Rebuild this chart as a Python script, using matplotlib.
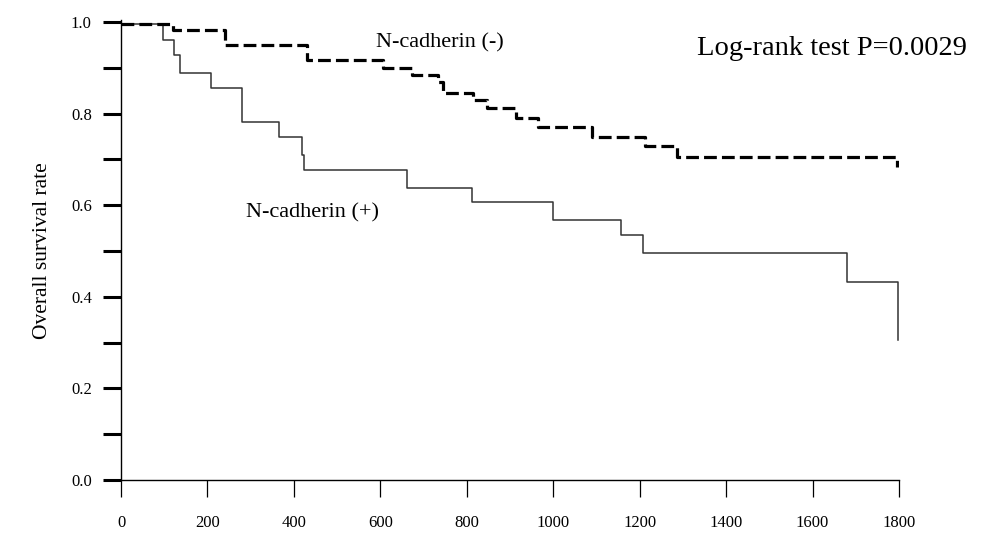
import matplotlib
matplotlib.use("Agg")
import matplotlib.pyplot as plt
from matplotlib.ticker import MultipleLocator

plt.rcParams['font.family'] = ['Liberation Serif', 'DejaVu Serif']

# N-cadherin (-) : step times (days) and survival after each step
neg_days = [0, 120, 241, 430, 606, 673, 733, 745, 815, 846, 915, 965, 1089, 1212, 1286, 1795, 1795]
neg_surv = [0.995, 0.983, 0.950, 0.917, 0.899, 0.884, 0.868, 0.845, 0.830, 0.812, 0.790, 0.771, 0.749, 0.730, 0.706, 0.706, 0.684]

# N-cadherin (+)
pos_days = [0, 97, 123, 137, 208, 280, 366, 418, 424, 662, 812, 1000, 1157, 1208, 1680, 1798, 1798]
pos_surv = [0.995, 0.961, 0.928, 0.889, 0.855, 0.782, 0.750, 0.710, 0.677, 0.637, 0.607, 0.568, 0.535, 0.496, 0.432, 0.432, 0.306]

x_ticks = [0, 200, 400, 600, 800, 1000, 1200, 1400, 1600, 1800]
y_major = [0.0, 0.2, 0.4, 0.6, 0.8, 1.0]

fig = plt.figure(figsize=(9.82, 5.34), dpi=100)
ax = fig.add_axes([121/982, 1-480/534, 778/982, 458/534])

ax.step(pos_days, pos_surv, where='post', color='#333333', lw=1.1)
ax.step(neg_days, neg_surv, where='post', color='black', lw=2.3,
        linestyle=(0, (4.0, 1.6)))

ax.set_xlim(0, 1800)
ax.set_ylim(0, 1.0)
ax.spines['top'].set_visible(False)
ax.spines['right'].set_visible(False)
ax.spines['left'].set_linewidth(1.0)
ax.spines['bottom'].set_linewidth(1.0)
ax.spines['left'].set_bounds(0, 1.005)

ax.set_xticks(x_ticks)
ax.set_xticklabels([str(v) for v in x_ticks], fontsize=12)
ax.set_yticks(y_major)
ax.set_yticklabels([f"{v:.1f}" for v in y_major], fontsize=12)
ax.yaxis.set_minor_locator(MultipleLocator(0.1))

ax.tick_params(axis='y', which='both', direction='out', length=13, width=2.2, pad=8)
ax.tick_params(axis='x', which='major', direction='out', length=12, width=0.9, pad=13)

ax.set_ylabel('Overall survival rate', fontsize=15.5, labelpad=14)

ax.text(738, 0.955, 'N-cadherin (-)', fontsize=16, ha='center', va='center')
ax.text(444, 0.583, 'N-cadherin (+)', fontsize=16, ha='center', va='center')
ax.text(1645, 0.943, 'Log-rank test P=0.0029', fontsize=20.5, ha='center', va='center')

fig.savefig('out.png', dpi=100)
